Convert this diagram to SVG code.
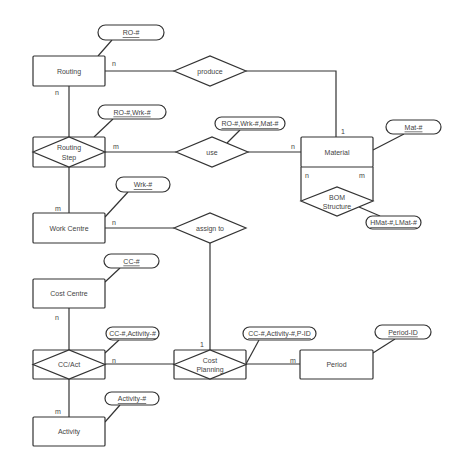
<svg xmlns="http://www.w3.org/2000/svg" width="454" height="460" viewBox="0 0 454 460">
<style>
.box{fill:#fff;stroke:#333;stroke-width:1.2}
.dia{fill:#fff;stroke:#333;stroke-width:1.2}
.att{fill:#fff;stroke:#333;stroke-width:1.2}
.ln{fill:none;stroke:#333;stroke-width:1.2}
text{font-family:"Liberation Sans",Arial,sans-serif;font-size:7px;fill:#444;text-anchor:middle;dominant-baseline:central}
.u{text-decoration:underline}
.c{text-anchor:start}
</style>
<rect width="454" height="460" fill="#fff"/>
<g id="connectors">
<path class="ln" d="M105,71H174"/>
<path class="ln" d="M246,71H336V137"/>
<path class="ln" d="M69,86V137"/>
<path class="ln" d="M105,152H176"/>
<path class="ln" d="M248,152H301"/>
<path class="ln" d="M69,167V213"/>
<path class="ln" d="M105,228H174"/>
<path class="ln" d="M210,243V350"/>
<path class="ln" d="M69,308V350"/>
<path class="ln" d="M105,364H174"/>
<path class="ln" d="M246,364H300"/>
<path class="ln" d="M69,379V417"/>
<path class="ln" d="M112,40L98,56"/>
<path class="ln" d="M113,119L94,137"/>
<path class="ln" d="M240,130L227,143"/>
<path class="ln" d="M404,134L373,150"/>
<path class="ln" d="M359,207L380,216"/>
<path class="ln" d="M128,192L105,217"/>
<path class="ln" d="M120,268L105,282"/>
<path class="ln" d="M119,340L105,353"/>
<path class="ln" d="M259,340L246,364"/>
<path class="ln" d="M395,339L373,353"/>
<path class="ln" d="M120,405L105,422"/>
<text class="c" x="112" y="63">n</text>
<text class="c" x="55" y="92">n</text>
<text class="c" x="341" y="131">1</text>
<text class="c" x="113" y="146">m</text>
<text class="c" x="291" y="146">n</text>
<text class="c" x="55" y="208">m</text>
<text class="c" x="112" y="222">n</text>
<text class="c" x="200" y="344">1</text>
<text class="c" x="55" y="317">n</text>
<text class="c" x="112" y="360">n</text>
<text class="c" x="290" y="360">m</text>
<text class="c" x="55" y="411">m</text>
</g>
<g id="routing">
<rect class="box" x="33" y="56" width="72" height="30" rx="1"/>
<text x="69" y="71">Routing</text>
</g>
<g id="ro-key">
<rect class="att" x="98" y="25" width="66" height="15" rx="7.5"/>
<text class="u" x="131" y="32.5">RO-#</text>
</g>
<g id="produce">
<polygon class="dia" points="174,71 210,56 246,71 210,86"/>
<text x="210" y="71">produce</text>
</g>
<g id="routing-step">
<rect class="box" x="33" y="137" width="72" height="30" rx="1"/>
<polygon class="dia" points="33,152 69,137 105,152 69,167"/>
<text x="69" y="147">Routing</text>
<text x="69" y="157">Step</text>
</g>
<g id="ro-wrk-key">
<rect class="att" x="98" y="105" width="68" height="14" rx="7"/>
<text class="u" x="132" y="112">RO-#,Wrk-#</text>
</g>
<g id="use">
<polygon class="dia" points="176,152 212,137 248,152 212,167"/>
<text x="212" y="152">use</text>
</g>
<g id="ro-wrk-mat-key">
<rect class="att" x="215" y="117" width="70" height="13" rx="6.5"/>
<text class="u" x="250" y="123.5">RO-#,Wrk-#,Mat-#</text>
</g>
<g id="material">
<path class="ln" d="M301,167V201M373,167V201"/>
<rect class="box" x="301" y="137" width="72" height="30" rx="1"/>
<text x="337" y="152">Material</text>
<text class="c" x="305" y="175">n</text>
<text class="c" x="359" y="175">m</text>
</g>
<g id="mat-key">
<rect class="att" x="386" y="120" width="55" height="14" rx="7"/>
<text class="u" x="413.5" y="127">Mat-#</text>
</g>
<g id="bom-structure">
<polygon class="dia" points="301,201 337,187 373,201 337,216"/>
<text x="337" y="197">BOM</text>
<text x="337" y="206.5">Structure</text>
</g>
<g id="hmat-lmat-key">
<rect class="att" x="366" y="216" width="55" height="13" rx="6.5"/>
<text class="u" x="393.5" y="222.5">HMat-#,LMat-#</text>
</g>
<g id="work-centre">
<rect class="box" x="33" y="213" width="72" height="30" rx="1"/>
<text x="69" y="228">Work Centre</text>
</g>
<g id="wrk-key">
<rect class="att" x="116" y="177" width="54" height="15" rx="7.5"/>
<text class="u" x="143" y="184.5">Wrk-#</text>
</g>
<g id="assign-to">
<polygon class="dia" points="174,228 210,213 246,228 210,243"/>
<text x="210" y="228">assign to</text>
</g>
<g id="cost-centre">
<rect class="box" x="33" y="279" width="72" height="29" rx="1"/>
<text x="69" y="293.5">Cost Centre</text>
</g>
<g id="cc-key">
<rect class="att" x="104" y="254" width="55" height="14" rx="7"/>
<text class="u" x="131.5" y="261">CC-#</text>
</g>
<g id="cc-act">
<rect class="box" x="33" y="350" width="72" height="29" rx="1"/>
<polygon class="dia" points="33,364.5 69,350 105,364.5 69,379"/>
<text x="69" y="364.5">CC/Act</text>
</g>
<g id="cc-activity-key">
<rect class="att" x="106" y="327" width="53" height="13" rx="6.5"/>
<text class="u" x="132.5" y="333.5">CC-#,Activity-#</text>
</g>
<g id="cost-planning">
<rect class="box" x="174" y="350" width="72" height="29" rx="1"/>
<polygon class="dia" points="174,364.5 210,350 246,364.5 210,379"/>
<text x="210" y="360">Cost</text>
<text x="210" y="369">Planning</text>
</g>
<g id="cc-activity-pid-key">
<rect class="att" x="243" y="327" width="73" height="13" rx="6.5"/>
<text class="u" x="279.5" y="333.5">CC-#,Activity-#,P-ID</text>
</g>
<g id="period">
<rect class="box" x="300" y="350" width="73" height="29" rx="1"/>
<text x="336.5" y="364.5">Period</text>
</g>
<g id="period-id-key">
<rect class="att" x="375" y="325" width="56" height="14" rx="7"/>
<text class="u" x="403" y="332">Period-ID</text>
</g>
<g id="activity">
<rect class="box" x="33" y="417" width="72" height="29" rx="1"/>
<text x="69" y="431.5">Activity</text>
</g>
<g id="activity-key">
<rect class="att" x="105" y="392" width="54" height="13" rx="6.5"/>
<text class="u" x="132" y="398.5">Activity-#</text>
</g>
</svg>
